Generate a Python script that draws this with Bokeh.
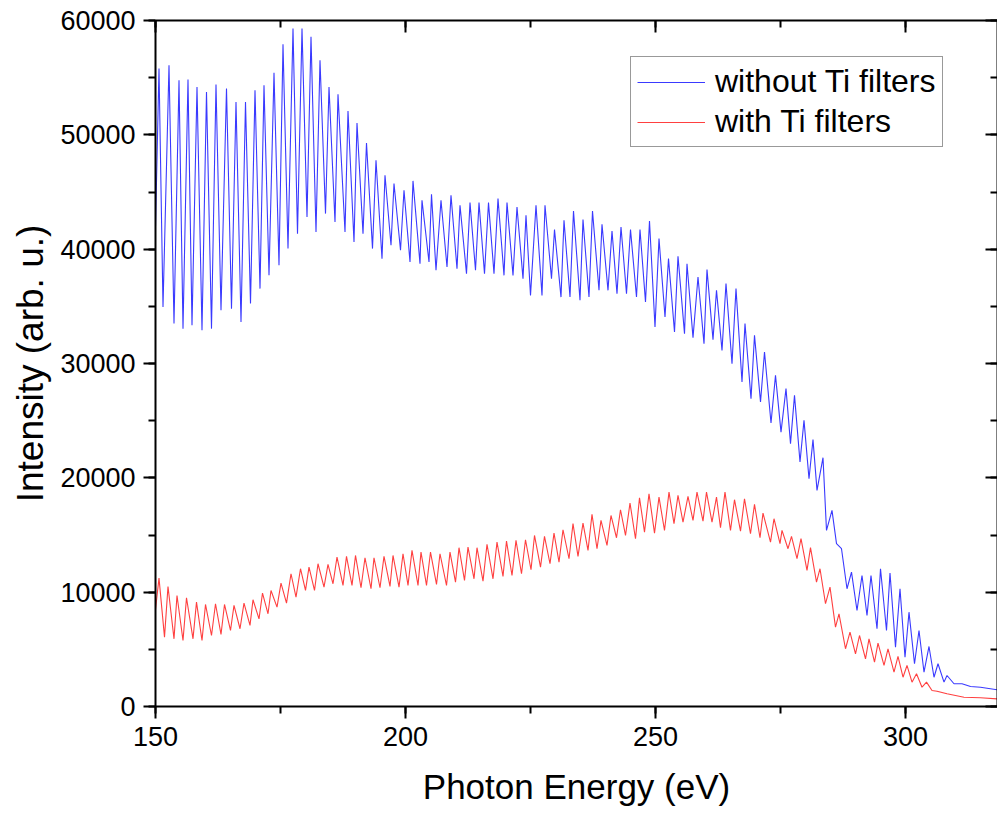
from bokeh.plotting import figure
from bokeh.models import (LinearAxis, Legend, LegendItem, Range1d, SingleIntervalTicker,
                          CustomJSTickFormatter)
from bokeh.embed import file_html
from bokeh.resources import INLINE

# ---- data (peaks / troughs of the spectra) ----
blue_e = [150.0, 150.7, 151.5, 152.7, 153.7, 154.7, 155.5, 156.5, 157.3, 158.3, 159.3, 160.2, 161.2, 162.1, 163.1,
          164.2, 165.2, 166.1, 167.1, 168.0, 169.0, 169.9, 170.9, 171.7, 172.7, 173.7, 174.7, 175.5, 176.5, 177.5,
          178.4, 179.3, 180.3, 181.1, 182.1, 182.9, 184.0, 184.7, 185.9, 186.5, 187.9, 188.5, 189.7, 190.3, 191.5,
          192.2, 193.4, 194.1, 195.3, 195.9, 197.1, 197.7, 199.0, 199.7, 200.9, 201.5, 202.9, 203.3, 204.7, 205.2,
          206.1, 207.1, 208.3, 209.1, 210.3, 210.9, 212.2, 212.9, 214.0, 214.7, 215.8, 216.6, 217.7, 218.5, 219.7,
          220.3, 221.5, 222.3, 223.5, 224.1, 225.0, 226.1, 227.3, 227.9, 229.2, 229.8, 231.1, 231.7, 232.9, 233.6,
          234.9, 235.5, 236.7, 237.4, 238.7, 239.3, 240.5, 241.3, 242.3, 243.1, 244.2, 245.0, 246.2, 246.9, 248.0,
          248.8, 249.9, 250.7, 251.9, 252.6, 253.8, 254.5, 255.8, 256.3, 257.5, 258.5, 259.7, 260.3, 261.5, 262.2,
          263.3, 264.1, 265.3, 266.1, 267.3, 267.9, 269.1, 269.8, 271.0, 271.8, 273.1, 274.0, 275.1, 276.1, 277.0,
          277.8, 278.9, 279.7, 280.7, 281.5, 282.3, 283.5, 284.2, 285.3, 286.2, 287.2, 288.3, 289.2, 290.3, 291.3,
          292.3, 293.1, 294.3, 295.0, 296.2, 296.9, 298.0, 298.9, 299.9, 300.7, 301.8, 302.7, 303.7, 304.7, 305.7,
          306.5, 307.7, 308.3, 309.7, 311.3, 313.0, 315.0, 318.3]
blue_i = [42000, 55800, 34940, 56090, 33490, 54775, 33050, 54830, 33340, 54190, 32900, 53750, 33050, 54400, 34650,
          54050, 34800, 52880, 33630, 52880, 35240, 53900, 36550, 54340, 37710, 55420, 38590, 57925, 40050, 59300,
          41360, 59300, 42810, 58570, 41500, 56525, 43110, 54190, 42380, 53550, 41500, 52090, 40630, 51040, 41360,
          49290, 40050, 47775, 39170, 46460, 40340, 45740, 39900, 45150, 38880, 45970, 38730, 44275, 38880, 44800,
          38150, 44275, 38440, 44710, 38300, 43840, 37860, 44070, 38150, 44070, 37860, 44070, 37860, 44420, 37710,
          44070, 37710, 43690, 37420, 42960, 35960, 43840, 35960, 43840, 37420, 41710, 35810, 42525, 35810, 43340,
          35525, 42585, 35810, 43340, 36400, 42175, 36400, 41590, 36110, 41940, 36110, 41710, 35810, 41710, 35380,
          42465, 33190, 40920, 34065, 39170, 32750, 39375, 32610, 38730, 32260, 37570, 31740, 38210, 32085, 36400,
          31150, 36990, 29990, 36550, 28380, 33490, 26920, 32460, 26630, 31000, 24790, 28960, 24000, 27800, 22990,
          27210, 21380, 25025, 19920, 23340, 18900, 21760, 15400, 17150, 14240, 13800, 10300, 11750, 8400, 11460,
          7960, 11460, 6800, 12050, 6650, 11670, 5190, 10300, 4310, 8250, 3740, 6650, 3000, 5250, 2560,
          3740, 2130, 2710, 1990, 1990, 1750, 1690, 1460]

red_e = [150.0, 150.7, 151.8, 152.5, 153.7, 154.3, 155.5, 156.2, 157.5, 158.2, 159.3, 160.0, 161.2, 162.0, 163.1,
         163.8, 165.0, 165.7, 166.9, 167.7, 168.9, 169.5, 170.7, 171.4, 172.5, 173.1, 174.3, 175.1, 176.2, 177.1,
         178.1, 179.0, 180.0, 180.7, 181.8, 182.5, 183.7, 184.5, 185.5, 186.3, 187.5, 188.2, 189.3, 190.0, 191.1,
         191.9, 193.1, 193.7, 194.9, 195.7, 196.9, 197.5, 198.7, 199.5, 200.5, 201.3, 202.5, 203.1, 204.2, 205.0,
         206.2, 206.9, 208.2, 208.9, 210.0, 210.7, 211.8, 212.5, 213.7, 214.3, 215.5, 216.3, 217.5, 218.3, 219.5,
         220.2, 221.3, 222.1, 223.2, 224.0, 225.1, 225.8, 227.0, 227.8, 228.9, 229.7, 230.7, 231.5, 232.7, 233.5,
         234.5, 235.5, 236.5, 237.3, 238.3, 239.1, 240.3, 241.1, 242.2, 243.0, 244.0, 244.9, 246.0, 246.8, 247.8,
         248.7, 249.8, 250.7, 251.8, 252.7, 253.7, 254.5, 255.5, 256.5, 257.5, 258.3, 259.5, 260.2, 261.3, 262.2,
         263.0, 263.9, 265.0, 265.8, 267.0, 267.8, 269.0, 269.8, 270.9, 271.5, 273.0, 273.7, 274.9, 275.3, 276.5,
         277.2, 278.3, 279.1, 280.3, 281.0, 282.2, 282.9, 284.0, 284.9, 286.0, 286.7, 288.0, 288.9, 290.0, 290.8,
         292.0, 292.7, 293.8, 294.5, 295.7, 296.5, 297.7, 298.5, 299.5, 300.3, 301.3, 302.2, 303.3, 304.2, 305.3,
         306.3, 308.3, 311.7, 315.0, 318.3]
red_i = [8500, 11230, 6065, 10500, 5920, 9710, 5775, 9510, 5920, 9125, 5775, 8925, 6210, 8985, 6300,
         8925, 6650, 8840, 6800, 9040, 7090, 9335, 7670, 9915, 8110, 10150, 8690, 10790, 9040, 11610,
         9565, 12050, 10150, 12190, 10150, 12485, 10440, 12425, 10735, 13060, 10590, 13125, 10590, 13210, 10385,
         13010, 10300, 13010, 10385, 13125, 10500, 13210, 10440, 13360, 10590, 13650, 10590, 13500, 10590, 13500,
         10675, 13360, 10590, 13500, 10880, 13890, 11025, 13940, 11170, 13890, 10965, 14175, 11170, 14380, 11375,
         14465, 11460, 14525, 11610, 14585, 11960, 14960, 12190, 14875, 12485, 15165, 12630, 15460, 12925, 15990,
         13125, 16040, 13650, 16800, 13800, 16275, 14090, 16710, 14760, 17210, 14960, 17790, 14675, 18260, 15250,
         18610, 15165, 18310, 15400, 18750, 15990, 18460, 16130, 18375, 16275, 18750, 16215, 18750, 16130, 18310,
         15635, 18750, 15400, 18085, 15340, 18170, 15110, 17675, 14760, 16915, 14380, 16425, 14240, 15400, 13800,
         14875, 12925, 14675, 11900, 13890, 10880, 12050, 8990, 10440, 6940, 8110, 5050, 6500, 4610, 6210,
         4170, 5920, 3880, 5540, 3590, 5050, 3000, 4375, 2560, 3590, 2130, 2860, 1690, 2130, 1400,
         1340, 1110, 815, 760, 670]

x_ticks_step = 50
y_ticks_step = 10000
legend_labels = ["without Ti filters", "with Ti filters"]
FONT = "Liberation Sans"

p = figure(width=997, height=817, output_backend="svg", toolbar_location=None,
           x_range=Range1d(150, 318.4), y_range=Range1d(0, 60000),
           min_border_left=155, min_border_right=0, min_border_top=20, min_border_bottom=111)
p.xgrid.visible = False
p.ygrid.visible = False
p.outline_line_color = None
p.background_fill_color = "white"
p.border_fill_color = "white"

r_blue = p.line(blue_e, blue_i, line_color="#3a3aff", line_width=1.1)
r_red = p.line(red_e, red_i, line_color="#ff4040", line_width=1.1)

blank = CustomJSTickFormatter(code="return ''")

def style(ax, tick_out, tick_in, minor_out, minor_in, show_labels, step):
    ax.ticker = SingleIntervalTicker(interval=step, num_minor_ticks=2)
    ax.axis_line_width = 2
    ax.axis_line_color = "black"
    ax.major_tick_line_width = 2
    ax.minor_tick_line_width = 2
    ax.major_tick_out = tick_out
    ax.major_tick_in = tick_in
    ax.minor_tick_out = minor_out
    ax.minor_tick_in = minor_in
    ax.major_label_text_font = FONT
    ax.major_label_text_color = "black"
    if show_labels:
        ax.major_label_text_font_size = "27px"
        ax.major_label_standoff = 8
    else:
        ax.formatter = blank
        ax.major_label_standoff = 0

xa = p.xaxis[0]
ya = p.yaxis[0]
style(xa, 12, 0, 7, 0, True, x_ticks_step)
style(ya, 12, 0, 7, 0, True, y_ticks_step)
xa.axis_label = "Photon Energy (eV)"
xa.axis_label_text_font = FONT
xa.axis_label_text_font_size = "35px"
xa.axis_label_text_font_style = "normal"
xa.axis_label_text_color = "black"
xa.axis_label_standoff = 18
ya.axis_label = "Intensity (arb. u.)"
ya.axis_label_text_font = FONT
ya.axis_label_text_font_size = "37px"
ya.axis_label_text_font_style = "normal"
ya.axis_label_text_color = "black"
ya.axis_label_standoff = 6

top = LinearAxis()
style(top, 0, 12, 0, 7, False, x_ticks_step)
p.add_layout(top, "above")
right = LinearAxis()
style(right, 0, 12, 0, 7, False, y_ticks_step)
p.add_layout(right, "right")

legend = Legend(items=[LegendItem(label=legend_labels[0], renderers=[r_blue]),
                       LegendItem(label=legend_labels[1], renderers=[r_red])],
                location=(475, 559))
legend.label_text_font = FONT
legend.label_text_font_size = "32px"
legend.label_text_color = "black"
legend.glyph_width = 68
legend.label_standoff = 10
legend.padding = 6
legend.spacing = 3
legend.margin = 0
legend.border_line_color = "#333333"
legend.border_line_width = 1.5
legend.background_fill_alpha = 1
p.add_layout(legend)

open("out.html", "w").write(file_html(p, INLINE))
